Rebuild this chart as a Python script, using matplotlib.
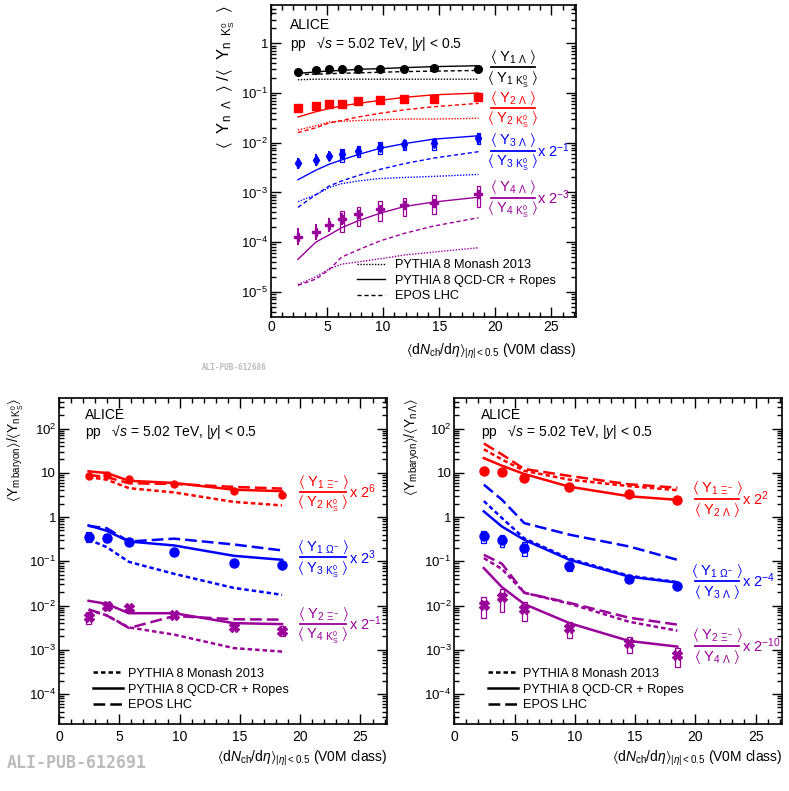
import numpy as np
import matplotlib
matplotlib.use('Agg')
import matplotlib.pyplot as plt
from matplotlib.lines import Line2D
from matplotlib.ticker import FixedLocator, MultipleLocator, FuncFormatter, NullFormatter

# ---------------- data ----------------
# top panel: <Y_n Lambda>/<Y_n K0S>
x_top = [2.4, 4.0, 5.2, 6.3, 7.8, 9.7, 11.9, 14.5, 18.5]

lk1_data = [0.268, 0.286, 0.30, 0.30, 0.308, 0.304, 0.304, 0.314, 0.30]
lk1_stat = [0.03, 0.03, 0.03, 0.03, 0.03, 0.03, 0.03, 0.03, 0.03]
lk1_syst = [0, 0, 0, 0, 0, 0, 0, 0, 0]
lk1_monash = [0.185, 0.19, 0.19, 0.19, 0.19, 0.19, 0.19, 0.19, 0.19]
lk1_ropes = [0.25, 0.265, 0.28, 0.285, 0.30, 0.31, 0.325, 0.34, 0.355]
lk1_epos = [0.235, 0.24, 0.245, 0.25, 0.255, 0.262, 0.27, 0.276, 0.285]

lk2_data = [0.049, 0.054, 0.059, 0.061, 0.068, 0.071, 0.075, 0.077, 0.084]
lk2_stat = [0.08, 0.07, 0.06, 0.06, 0.05, 0.05, 0.05, 0.05, 0.05]
lk2_syst = [0, 0, 0, 0, 0, 0, 0, 0, 0]
lk2_monash = [0.018, 0.022, 0.026, 0.027, 0.028, 0.029, 0.030, 0.030, 0.031]
lk2_ropes = [0.033, 0.042, 0.049, 0.055, 0.062, 0.071, 0.082, 0.092, 0.10]
lk2_epos = [0.016, 0.020, 0.025, 0.028, 0.033, 0.039, 0.046, 0.053, 0.062]

lk3_data = [0.00385, 0.0045, 0.0054, 0.0058, 0.0069, 0.0082, 0.0093, 0.0097, 0.0127]
lk3_stat = [0.3, 0.3, 0.27, 0.2, 0.15, 0.1, 0.08, 0.06, 0.05]
lk3_syst = [0, 0, 0, 0.3, 0.25, 0.27, 0.23, 0.25, 0.25]
lk3_monash = [0.00065, 0.0009, 0.00125, 0.0015, 0.0017, 0.0019, 0.002, 0.0021, 0.0023]
lk3_ropes = [0.0018, 0.0028, 0.0037, 0.0045, 0.0058, 0.0077, 0.0096, 0.0118, 0.0138]
lk3_epos = [0.0005, 0.0009, 0.00135, 0.0017, 0.0022, 0.0029, 0.0038, 0.0049, 0.0066]

lk4_data = [0.000129, 0.00016, 0.00022, 0.00029, 0.00036, 0.00046, 0.00056, 0.00062, 0.00092]
lk4_stat = [0.5, 0.42, 0.37, 0.32, 0.25, 0.2, 0.15, 0.12, 0.1]
lk4_syst = [0, 0, 0, 0.45, 0.42, 0.43, 0.4, 0.4, 0.45]
lk4_monash = [1.4e-5, 2.0e-5, 2.9e-5, 3.6e-5, 4.0e-5, 4.6e-5, 5.5e-5, 6.3e-5, 7.7e-5]
lk4_ropes = [4.5e-5, 1.0e-4, 1.4e-4, 1.95e-4, 2.7e-4, 3.8e-4, 5.2e-4, 6.4e-4, 8.0e-4]
lk4_epos = [1.35e-5, 1.8e-5, 2.8e-5, 5.0e-5, 7.0e-5, 1.05e-4, 1.5e-4, 2.1e-4, 3.1e-4]

# bottom panels share the multiplicity classes
x_bot = [2.45, 3.95, 5.8, 9.55, 14.5, 18.5]

# bottom left: <Y_m baryon>/<Y_n K0S>
xk_data = [8.3, 8.9, 7.2, 5.6, 3.95, 3.15]
xk_stat = [0.15, 0.12, 0.1, 0.08, 0.08, 0.1]
xk_syst = [0.1, 0.1, 0.1, 0.08, 0.08, 0.1]
xk_monash = [8.0, 7.0, 4.5, 3.6, 2.2, 1.83]
xk_ropes = [10.8, 9.9, 6.6, 5.9, 4.15, 3.85]
xk_epos = [9.0, 8.0, 5.8, 5.6, 4.8, 4.4]

ok_data = [0.36, 0.34, 0.27, 0.16, 0.091, 0.081]
ok_stat = [0.2, 0.2, 0.1, 0.08, 0.08, 0.08]
ok_syst = [0.25, 0.2, 0.12, 0.1, 0.1, 0.1]
ok_monash = [0.31, 0.21, 0.097, 0.052, 0.025, 0.0175]
ok_ropes = [0.646, 0.49, 0.28, 0.228, 0.133, 0.108]
ok_epos = [0.63, 0.56, 0.28, 0.325, 0.24, 0.176]

x2k_data = [0.0056, 0.0098, 0.0087, 0.006, 0.0033, 0.0027]
x2k_stat = [0.2, 0.15, 0.15, 0.1, 0.1, 0.1]
x2k_syst = [0.3, 0.2, 0.2, 0.12, 0.15, 0.25]
x2k_monash = [0.0079, 0.006, 0.0032, 0.0022, 0.00109, 0.00091]
x2k_ropes = [0.0128, 0.0109, 0.0067, 0.0067, 0.0040, 0.0038]
x2k_epos = [0.0082, 0.006, 0.0031, 0.0058, 0.0049, 0.0048]

# bottom right: <Y_m baryon>/<Y_n Lambda>
xl_data = [10.8, 10.4, 7.6, 4.8, 3.4, 2.45]
xl_stat = [0.12, 0.12, 0.1, 0.08, 0.08, 0.08]
xl_syst = [0.1, 0.1, 0.1, 0.08, 0.08, 0.08]
xl_monash = [34.0, 20.0, 11.1, 7.0, 5.0, 4.05]
xl_ropes = [21.5, 14.5, 9.4, 4.85, 2.95, 2.45]
xl_epos = [46.0, 26.0, 12.2, 8.5, 5.5, 4.6]

ol_data = [0.378, 0.306, 0.199, 0.079, 0.0395, 0.027]
ol_stat = [0.15, 0.15, 0.15, 0.1, 0.1, 0.1]
ol_syst = [0.3, 0.3, 0.35, 0.25, 0.12, 0.12]
ol_monash = [2.3, 0.95, 0.33, 0.115, 0.047, 0.034]
ol_ropes = [1.34, 0.61, 0.306, 0.108, 0.045, 0.033]
ol_epos = [5.4, 2.46, 0.73, 0.40, 0.216, 0.108]

x2l_data = [0.0103, 0.0156, 0.0083, 0.0031, 0.0014, 0.00075]
x2l_stat = [0.2, 0.2, 0.2, 0.15, 0.15, 0.15]
x2l_syst = [0.5, 0.55, 0.45, 0.4, 0.4, 0.45]
x2l_monash = [0.118, 0.067, 0.0195, 0.011, 0.0043, 0.0027]
x2l_ropes = [0.070, 0.026, 0.0108, 0.0040, 0.00158, 0.00118]
x2l_epos = [0.140, 0.088, 0.0195, 0.0115, 0.0053, 0.0037]

model_names = ["PYTHIA 8 Monash 2013", "PYTHIA 8 QCD-CR + Ropes", "EPOS LHC"]

# ---------------- style ----------------
plt.rcParams['font.family'] = ['Liberation Sans', 'DejaVu Sans']
plt.rcParams['font.size'] = 9.5
plt.rcParams['mathtext.fontset'] = 'custom'
plt.rcParams['mathtext.rm'] = 'Liberation Sans'
plt.rcParams['mathtext.it'] = 'Liberation Sans:italic'
plt.rcParams['mathtext.bf'] = 'Liberation Sans:bold'
plt.rcParams['mathtext.default'] = 'regular'

BLACK = '#000000'
RED = '#ff0000'
BLUE = '#0000ff'
MAG = '#990099'


def logfmt(v, pos):
    e = int(round(np.log10(v)))
    if e == 0:
        return '1'
    if e == 1:
        return '10'
    return r'$10^{%d}$' % e


def frame(ax, ylim, emin, emax, pad):
    """
    ROOT like frame: ticks inside on all sides
    """
    ax.set_yscale('log')
    ax.set_xlim(0, 27.2)
    ax.set_ylim(*ylim)
    ax.xaxis.set_major_locator(MultipleLocator(5))
    ax.xaxis.set_minor_locator(MultipleLocator(1))
    majors = [10.0**e for e in range(emin, emax + 1)]
    minors = [m * 10.0**e for e in range(emin - 1, emax + 1) for m in range(2, 10)
              if ylim[0] <= m * 10.0**e <= ylim[1]]
    ax.yaxis.set_major_locator(FixedLocator(majors))
    ax.yaxis.set_minor_locator(FixedLocator(minors))
    ax.yaxis.set_major_formatter(FuncFormatter(logfmt))
    ax.yaxis.set_minor_formatter(NullFormatter())
    ax.tick_params(which='both', direction='in', top=True, right=True, width=1.0)
    ax.tick_params(which='major', length=7)
    ax.tick_params(which='minor', length=3.5)
    ax.tick_params(axis='x', pad=pad, labelsize=10)
    ax.tick_params(axis='y', pad=2, labelsize=9.5)
    for s in ax.spines.values():
        s.set_linewidth(1.2)


def data_points(ax, x, y, stat, syst, color, marker, ms, bw):
    x = np.array(x)
    y = np.array(y)
    stat = np.array(stat)
    syst = np.array(syst)
    for xi, yi, si in zip(x, y, syst):
        if si > 0:
            ax.bar(xi, yi * 2 * si, bottom=yi * (1 - si), width=bw, fill=False,
                   edgecolor=color, linewidth=0.9, zorder=3)
    ax.errorbar(x, y, yerr=[y * stat / (1 + stat), y * stat], fmt=marker, color=color,
                ms=ms, elinewidth=1.4, capsize=0, zorder=4)


def models(ax, x, mon, rop, epo, color, lw, st):
    ax.plot(x, mon, color=color, lw=lw, ls=st[0], zorder=2)
    ax.plot(x, rop, color=color, lw=lw, ls=st[1], zorder=2)
    ax.plot(x, epo, color=color, lw=lw, ls=st[2], zorder=2)


def frac(ax, x0, x1, y, num, den, suffix, color, fs):
    xc = 0.5 * (x0 + x1)
    ax.plot([x0, x1], [y, y], color=color, lw=1.3, clip_on=False)
    ax.annotate(num, xy=(xc, y), xytext=(0, 1.0), textcoords='offset points',
                ha='center', va='bottom', color=color, fontsize=fs)
    ax.annotate(den, xy=(xc, y), xytext=(0, -1.5), textcoords='offset points',
                ha='center', va='top', color=color, fontsize=fs)
    if suffix:
        ax.annotate(suffix, xy=(x1, y), xytext=(2, 0), textcoords='offset points',
                    ha='left', va='center', color=color, fontsize=fs)


def legend(ax, x, y, st, lw, hl, htp):
    h = [Line2D([], [], color='k', lw=lw, ls=s) for s in st]
    ax.legend(h, model_names, loc='upper left', bbox_to_anchor=(x, y), frameon=False,
              fontsize=9.2, handlelength=hl, handletextpad=htp, labelspacing=0.28,
              borderpad=0, borderaxespad=0)


xlabel = r'$\langle \mathrm{d}\mathit{N}_{\mathrm{ch}}/\mathrm{d}\mathit{\eta}\rangle_{|\mathit{\eta}|<0.5}$ (V0M class)'
sqrts = r'pp   √$\mathit{s}$ = 5.02 TeV, |$\mathit{y}$| < 0.5'

fig = plt.figure(figsize=(7.89, 7.91), dpi=100)

# ---------------- top panel ----------------
ax = fig.add_axes([0.3435, 0.5992, 0.3866, 0.3944])
frame(ax, (3.1e-6, 5.9), -5, 0, 2)
st_top = [(0, (1, 1.1)), '-', (0, (3, 2))]
models(ax, x_top, lk1_monash, lk1_ropes, lk1_epos, BLACK, 1.0, st_top)
models(ax, x_top, lk2_monash, lk2_ropes, lk2_epos, RED, 1.0, st_top)
models(ax, x_top, lk3_monash, lk3_ropes, lk3_epos, BLUE, 1.0, st_top)
models(ax, x_top, lk4_monash, lk4_ropes, lk4_epos, MAG, 1.0, st_top)
data_points(ax, x_top, lk1_data, lk1_stat, lk1_syst, BLACK, 'o', 5.5, 0.35)
data_points(ax, x_top, lk2_data, lk2_stat, lk2_syst, RED, 's', 5.5, 0.35)
data_points(ax, x_top, lk3_data, lk3_stat, lk3_syst, BLUE, 'd', 5.5, 0.35)
data_points(ax, x_top, lk4_data, lk4_stat, lk4_syst, MAG, 'P', 5.5, 0.35)
ax.text(0.062, 0.936, 'ALICE', transform=ax.transAxes, fontsize=10, va='center')
ax.text(0.062, 0.875, sqrts, transform=ax.transAxes, fontsize=10, va='center')
ax.set_ylabel(r'$\langle\ \ Y_{n\ \ \Lambda}\ \ \rangle\ /\langle\ \ Y_{n\ \ K^{0}_{S}}\ \ \rangle$',
              loc='top', fontsize=12, labelpad=3)
ax.set_xlabel(xlabel, loc='right', fontsize=10, labelpad=6)
fs = 10.5
frac(ax, 19.6, 23.5, 0.33, r'$\langle\ Y_{1\ \Lambda}\ \rangle$', r'$\langle\ Y_{1\ K^{0}_{S}}\ \rangle$', '', BLACK, fs)
frac(ax, 19.6, 23.5, 0.05, r'$\langle\ Y_{2\ \Lambda}\ \rangle$', r'$\langle\ Y_{2\ K^{0}_{S}}\ \rangle$', '', RED, fs)
frac(ax, 19.6, 23.5, 0.0069, r'$\langle\ Y_{3\ \Lambda}\ \rangle$', r'$\langle\ Y_{3\ K^{0}_{S}}\ \rangle$', r'x 2$^{-1}$', BLUE, fs)
frac(ax, 19.6, 23.5, 0.00078, r'$\langle\ Y_{4\ \Lambda}\ \rangle$', r'$\langle\ Y_{4\ K^{0}_{S}}\ \rangle$', r'x 2$^{-3}$', MAG, fs)
legend(ax, 0.282, 0.186, st_top, 1.0, 2.2, 0.8)

# ---------------- bottom panels ----------------
st_bot = [(0, (1.8, 1.2)), '-', (0, (4.7, 2.0))]
panels = [
    (0.0748, r'$\langle Y_{m\,baryon}\rangle/\langle Y_{n\,K^{0}_{S}}\rangle$',
     [(xk_data, xk_stat, xk_syst, xk_monash, xk_ropes, xk_epos, RED, 'o', 5.0,
       (3.7, r'$\langle\ Y_{1\ \Xi^{-}}\ \rangle$', r'$\langle\ Y_{2\ K^{0}_{S}}\ \rangle$', r'x 2$^{6}$')),
      (ok_data, ok_stat, ok_syst, ok_monash, ok_ropes, ok_epos, BLUE, 'o', 6.5,
       (0.122, r'$\langle\ Y_{1\ \Omega^{-}}\ \rangle$', r'$\langle\ Y_{3\ K^{0}_{S}}\ \rangle$', r'x 2$^{3}$')),
      (x2k_data, x2k_stat, x2k_syst, x2k_monash, x2k_ropes, x2k_epos, MAG, 'X', 6.5,
       (0.0038, r'$\langle\ Y_{2\ \Xi^{-}}\ \rangle$', r'$\langle\ Y_{4\ K^{0}_{S}}\ \rangle$', r'x 2$^{-1}$'))],
     23.8),
    (0.5758, r'$\langle Y_{mbaryon}\rangle/\langle Y_{n\,\Lambda}\rangle$',
     [(xl_data, xl_stat, xl_syst, xl_monash, xl_ropes, xl_epos, RED, 'o', 6.5,
       (2.6, r'$\langle\ Y_{1\ \Xi^{-}}\ \rangle$', r'$\langle\ Y_{2\ \Lambda}\ \rangle$', r'x 2$^{2}$')),
      (ol_data, ol_stat, ol_syst, ol_monash, ol_ropes, ol_epos, BLUE, 'o', 6.5,
       (0.036, r'$\langle\ Y_{1\ \Omega^{-}}\ \rangle$', r'$\langle\ Y_{3\ \Lambda}\ \rangle$', r'x 2$^{-4}$')),
      (x2l_data, x2l_stat, x2l_syst, x2l_monash, x2l_ropes, x2l_epos, MAG, 'X', 6.5,
       (0.00124, r'$\langle\ Y_{2\ \Xi^{-}}\ \rangle$', r'$\langle\ Y_{4\ \Lambda}\ \rangle$', r'x 2$^{-10}$'))],
     23.6),
]

for left, ylab, series, xend in panels:
    ax = fig.add_axes([left, 0.0847, 0.4157, 0.4121])
    frame(ax, (2.1e-5, 490), -4, 2, 4)
    for d, s, sy, mo, ro, ep, c, m, ms, lab in series:
        models(ax, x_bot, mo, ro, ep, c, 1.8, st_bot)
        data_points(ax, x_bot, d, s, sy, c, m, ms, 0.4)
        frac(ax, 20.0, xend, lab[0], lab[1], lab[2], lab[3], c, 10.5)
    ax.text(0.08, 0.948, 'ALICE', transform=ax.transAxes, fontsize=10, va='center')
    ax.text(0.08, 0.897, sqrts, transform=ax.transAxes, fontsize=10, va='center')
    ax.set_ylabel(ylab, loc='top', fontsize=10, labelpad=2)
    ax.set_xlabel(xlabel, loc='right', fontsize=10, labelpad=4)
    legend(ax, 0.103, 0.172, st_bot, 1.8, 2.35, 0.4)

fig.text(202 / 789, 1 - 367 / 791, 'ALI-PUB-612686', family='DejaVu Sans Mono',
         fontweight='bold', fontsize=5.5, color='#bcbcbc', va='center')
fig.text(7 / 789, 1 - 763 / 791, 'ALI-PUB-612691', family='DejaVu Sans Mono',
         fontweight='bold', fontsize=12, color='#bcbcbc', va='center')

fig.savefig('out.png', dpi=100)
